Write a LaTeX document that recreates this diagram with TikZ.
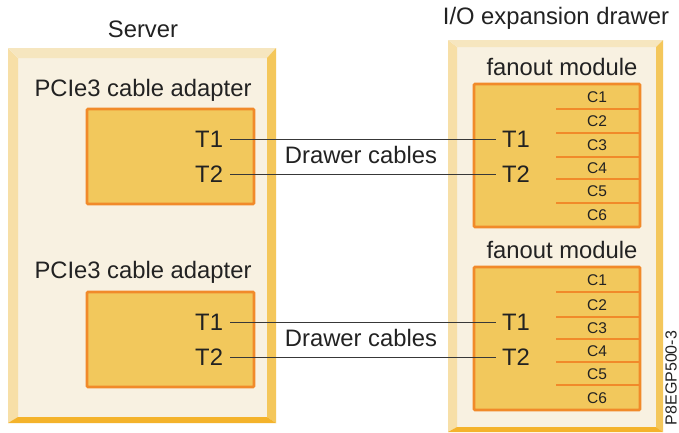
\documentclass[tikz,border=0pt]{standalone}
\usepackage{fontspec}
\setmainfont{Liberation Sans}
\definecolor{cream}{HTML}{F8F1E1}
\definecolor{bevL}{HTML}{F7DFA7}
\definecolor{bevT}{HTML}{F6E6BF}
\definecolor{bevR}{HTML}{F4C75B}
\definecolor{bevB}{HTML}{F4B32B}
\definecolor{boxfill}{HTML}{F2C85C}
\definecolor{boxline}{HTML}{F18A2A}
\definecolor{txt}{HTML}{222222}
\newcommand\myframe[8]{%
  \fill[cream] (#5,#6) rectangle (#7,#8);
  \fill[bevL] (#1,#2) -- (#5,#6) -- (#5,#8) -- (#1,#4) -- cycle;
  \fill[bevT] (#1,#2) -- (#3,#2) -- (#7,#6) -- (#5,#6) -- cycle;
  \fill[bevR] (#3,#2) -- (#3,#4) -- (#7,#8) -- (#7,#6) -- cycle;
  \fill[bevB] (#1,#4) -- (#3,#4) -- (#7,#8) -- (#5,#8) -- cycle;
}
\tikzset{
  big/.style={font=\fontsize{23.8}{26}\selectfont, text=txt, inner sep=0pt},
  small/.style={font=\fontsize{15.5}{17}\selectfont, text=txt, inner sep=0pt},
  portL/.style={big, anchor=east, outer xsep=7pt},
  portR/.style={big, anchor=west, outer xsep=6pt},
  modbox/.style={draw=boxline, fill=boxfill, line width=2.6pt, rounded corners=1pt},
  sep/.style={draw=boxline, line width=2.8pt},
  cable/.style={draw=txt!90, line width=0.9pt}
}
\begin{document}
\begin{tikzpicture}[x=1pt,y=-1pt]
\useasboundingbox[fill=white] (0,0) rectangle (679,432);
% frames
\myframe{8}{48}{276}{423}{18}{58}{267}{417}
\myframe{448}{40}{663}{432}{457}{47}{656}{427}
% titles
\node[big] (server) at (143,29) {Server};
\node[big] (drawer) at (556,18) {I/O expansion drawer};
% adapters
\node[big] (pcie1) at (143,90) {PCIe3 cable adapter};
\node[big] (pcie2) at (143,272) {PCIe3 cable adapter};
\path[modbox] (87,109) rectangle (254,204);
\path[modbox] (87,292) rectangle (254,387);
\node[portL] (a1T1) at (230,139) {T1};
\node[portL] (a1T2) at (230,174) {T2};
\node[portL] (a2T1) at (230,322) {T1};
\node[portL] (a2T2) at (230,357) {T2};
% fanout modules
\node[big] (fan1) at (562,67) {fanout module};
\node[big] (fan2) at (562,250) {fanout module};
\path[modbox] (474,84) rectangle (640,227);
\path[modbox] (474,267) rectangle (640,410);
\foreach \y in {109,133,157,179,203} \draw[sep] (556,\y) -- (640,\y);
\foreach \y in {292,317,339,362,385} \draw[sep] (556,\y) -- (640,\y);
\foreach \n/\y in {1/97,2/121,3/145,4/168,5/191,6/215}
  \node[small] (m1C\n) at (597,\y) {C\n};
\foreach \n/\y in {1/280,2/305,3/328,4/351,5/374,6/398}
  \node[small] (m2C\n) at (597,\y) {C\n};
\node[portR] (f1T1) at (496,139) {T1};
\node[portR] (f1T2) at (496,174) {T2};
\node[portR] (f2T1) at (496,322) {T1};
\node[portR] (f2T2) at (496,357) {T2};
% cables
\draw[cable] (a1T1.east) -- (f1T1.west);
\draw[cable] (a1T2.east) -- (f1T2.west);
\draw[cable] (a2T1.east) -- (f2T1.west);
\draw[cable] (a2T2.east) -- (f2T2.west);
\node[big] (dc1) at (361,155) {Drawer cables};
\node[big] (dc2) at (361,338) {Drawer cables};
% figure id
\node[font=\fontsize{16}{18}\selectfont, text=txt, inner sep=0pt, rotate=90] (figid) at (671,378) {P8EGP500-3};
\end{tikzpicture}
\end{document}
